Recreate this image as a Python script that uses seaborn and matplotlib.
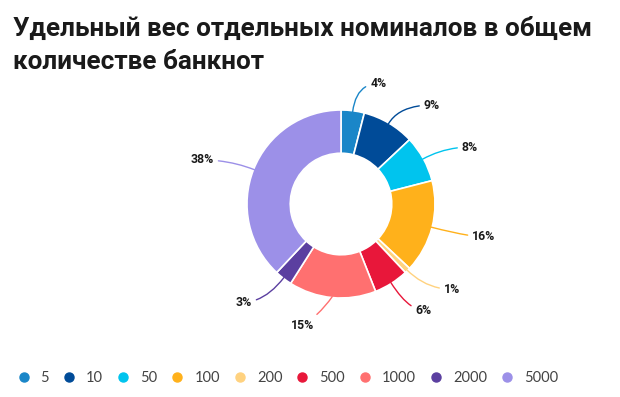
import numpy as np
import matplotlib
matplotlib.use("Agg")
import matplotlib.pyplot as plt
from matplotlib.lines import Line2D
import seaborn as sns

# Data
denominations = ["5", "10", "50", "100", "200", "500", "1000", "2000", "5000"]
shares = [4, 9, 8, 16, 1, 6, 15, 3, 38]
colors = ["#1A86C8", "#004B98", "#00C4EE", "#FFB11B", "#FFD27F",
          "#E8173A", "#FF7070", "#5B3FA0", "#9C90E8"]

# label layout: angle shift from the slice middle (deg) and radius (x outer radius)
label_shift = [-10, -12, -5, 1.5, 7.5, 5.5, -12, -7, 4]
label_radius = [1.34, 1.43, 1.50, 1.56, 1.49, 1.43, 1.35, 1.47, 1.55]

sns.set_style("white")
plt.rcParams["font.family"] = ["Roboto", "DejaVu Sans"]

fig = plt.figure(figsize=(6.2, 3.97), dpi=100)
fig.patch.set_facecolor("white")

fig.text(0.021, 0.928, "Удельный вес отдельных номиналов в общем",
         fontsize=18.8, fontweight="bold", color="#1a1a1a", va="center")
fig.text(0.021, 0.843, "количестве банкнот",
         fontsize=18.8, fontweight="bold", color="#1a1a1a", va="center")

# donut
cx, cy = 341 / 620, 1 - 204 / 397
half_w, half_h = 160 / 620, 160 / 397
ax = fig.add_axes([cx - half_w, cy - half_h, 2 * half_w, 2 * half_h])
wedges, _ = ax.pie(shares, colors=colors, startangle=90, counterclock=False,
                   radius=1.0, wedgeprops=dict(width=0.46, edgecolor="white", linewidth=1.2))
lim = 160 / 94
ax.set_xlim(-lim, lim)
ax.set_ylim(-lim, lim)
ax.set_aspect("equal")
ax.axis("off")

# labels with curved leader lines
for w, val, col, shift, rad in zip(wedges, shares, colors, label_shift, label_radius):
    mid = (w.theta1 + w.theta2) / 2
    ang = np.deg2rad(mid)
    x0, y0 = np.cos(ang), np.sin(ang)
    lab = np.deg2rad(mid + shift)
    xt, yt = rad * np.cos(lab), rad * np.sin(lab)
    if abs(x0) < 0.3 and y0 < 0:
        conn = "arc3,rad=0.1"
    else:
        conn = f"angle3,angleA=0,angleB={mid:.1f}"
    ax.annotate(f"{val}%", xy=(0.99 * x0, 0.99 * y0), xytext=(xt, yt),
                ha="center", va="center", fontsize=8.8, fontweight="bold", color="#1a1a1a",
                arrowprops=dict(arrowstyle="-", color=col, lw=1.0,
                                shrinkA=1, shrinkB=0, connectionstyle=conn))

# legend
handles = [Line2D([0], [0], marker="o", linestyle="", markersize=6.5,
                  markerfacecolor=c, markeredgecolor=c) for c in colors]
fig.legend(handles, denominations, loc="center left", bbox_to_anchor=(0.005, 0.048),
           ncol=len(denominations), frameon=False, handletextpad=0.66,
           columnspacing=0.88, handlelength=1.0, labelcolor="#444444",
           prop=dict(family="Lato", size=10.5))

fig.savefig("out.png", dpi=100)
